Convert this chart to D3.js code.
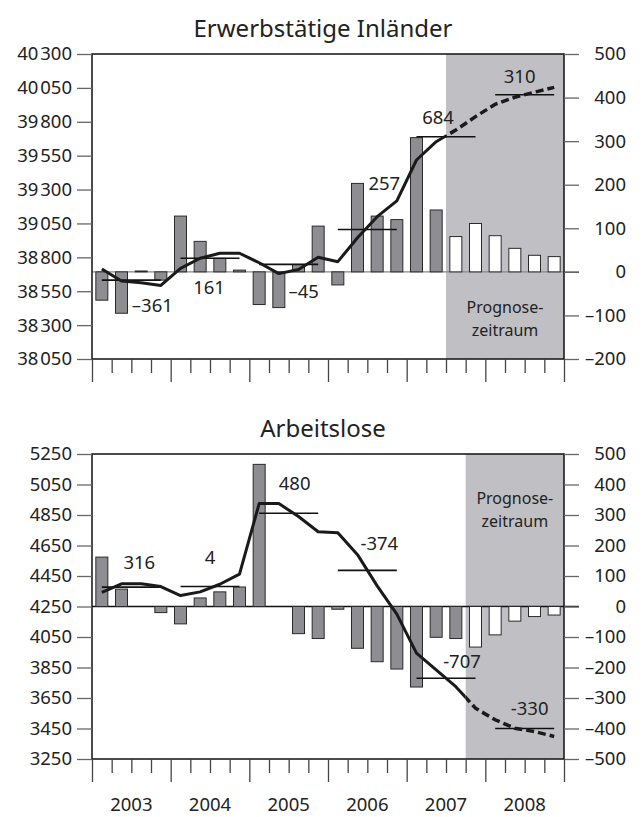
<!DOCTYPE html>
<html>
<head>
<meta charset="utf-8">
<script src="https://cdn.jsdelivr.net/npm/d3@7"></script>
<style>
  body { margin: 0; background: #fff; }
  svg text { font-family: "Noto Sans", sans-serif; fill: #222; }
</style>
</head>
<body>
<div id="chart"></div>
<script>
// ---- data (Tsd. Personen), quarters 2003 I .. 2008 IV ----
var years = ["2003", "2004", "2005", "2006", "2007", "2008"];
var quarterNames = ["I", "II", "III", "IV"];

// Erwerbstätige Inländer
var erwQuarterChange = [-65, -95, 2, -19, 128, 70, 31, 4, -75, -82, 17, 105,
                        -30, 203, 128, 120, 308, 142, 81, 111, 83, 54, 38, 35];
var erwLevel = [38714, 38625, 38613, 38593, 38719, 38793, 38830, 38830,
                38760, 38680, 38710, 38800, 38768, 38945, 39100, 39216,
                39518, 39653, 39739, 39838, 39929, 39981, 40018, 40054];
var erwAnnual = [38632, 38793, 38748, 39005, 39689, 39999];
var erwAnnualChange = [-361, 161, -45, 257, 684, 310];
var erwTicksLeft = [38050, 38300, 38550, 38800, 39050, 39300, 39550, 39800, 40050, 40300];
var erwTicksRight = [-200, -100, 0, 100, 200, 300, 400, 500];
var erwForecastFrom = 18;

// Arbeitslose
var alQuarterChange = [162, 57, 0, -20, -57, 28, 48, 64, 466, 0, -89, -105,
                       -9, -137, -181, -205, -264, -101, -105, -133, -93, -48, -33, -28];
var alLevel = [4342, 4399, 4399, 4381, 4322, 4346, 4396, 4462,
               4925, 4925, 4840, 4740, 4734, 4590, 4385, 4200,
               3944, 3834, 3724, 3583, 3507, 3452, 3430, 3398];
var alAnnual = [4377, 4381, 4861, 4487, 3780, 3450];
var alAnnualChange = [316, 4, 480, -374, -707, -330];
var alTicksLeft = [3250, 3450, 3650, 3850, 4050, 4250, 4450, 4650, 4850, 5050, 5250];
var alTicksRight = [-500, -400, -300, -200, -100, 0, 100, 200, 300, 400, 500];
var alForecastFrom = 19;

// ---- layout ----
var svgWidth = 643;
var svgHeight = 817;
var plotLeft = 92;
var plotRight = 564;

var svg = d3.select("#chart")
  .append("svg")
  .attr("width", svgWidth)
  .attr("height", svgHeight);

var nQuarters = years.length * quarterNames.length;

var x = d3.scaleLinear()
  .domain([0, nQuarters])
  .range([plotLeft, plotRight]);

var de = d3.formatLocale({
  decimal: ",",
  thousands: "\u200A",
  grouping: [3],
  currency: ["", " €"],
  minus: "\u2013"
});
var fmtBig = de.format(",d");
var fmtInt = de.format("d");

function leftFormat(v) {
  return v >= 10000 ? fmtBig(v) : fmtInt(v);
}

function drawPanel(p) {
  var top = p.top, bottom = p.top + 305;

  var yL = d3.scaleLinear().domain(d3.extent(p.ticksLeft)).range([bottom, top]);
  var yR = d3.scaleLinear().domain(d3.extent(p.ticksRight)).range([bottom, top]);

  var g = svg.append("g");
  var shadeX = x(p.forecastFrom);

  // forecast shading
  g.append("rect")
    .attr("x", shadeX)
    .attr("y", top)
    .attr("width", plotRight - shadeX)
    .attr("height", bottom - top)
    .attr("fill", "#c0c0c4");

  // zero line
  g.append("line")
    .attr("x1", plotLeft)
    .attr("x2", plotRight + 15)
    .attr("y1", yR(0))
    .attr("y2", yR(0))
    .attr("stroke", p.zeroColor)
    .attr("stroke-width", 1.3);

  // quarterly changes (right axis)
  var barW = 12;
  g.selectAll("rect.bar")
    .data(p.quarterChange)
    .enter()
    .append("rect")
    .attr("class", "bar")
    .attr("x", function(d, i) { return x(i + 0.5) - barW / 2; })
    .attr("y", function(d) { return Math.min(yR(d), yR(0)); })
    .attr("width", barW)
    .attr("height", function(d) { return Math.abs(yR(d) - yR(0)); })
    .attr("fill", function(d, i) { return i >= p.forecastFrom ? "#fff" : "#8e8e92"; })
    .attr("stroke", "#2a2a2a")
    .attr("stroke-width", 1);

  // annual averages
  g.selectAll("line.annual")
    .data(p.annual)
    .enter()
    .append("line")
    .attr("class", "annual")
    .attr("x1", function(d, i) { return x(i * 4 + 0.5); })
    .attr("x2", function(d, i) { return x(i * 4 + 3.5); })
    .attr("y1", function(d) { return yL(d); })
    .attr("y2", function(d) { return yL(d); })
    .attr("stroke", "#111")
    .attr("stroke-width", 1.6);

  // level line, solid before forecast, dashed after
  var line = d3.line()
    .x(function(d, i) { return x(i + 0.5); })
    .y(function(d) { return yL(d); });

  var defs = svg.append("defs");
  defs.append("clipPath").attr("id", p.id + "-past")
    .append("rect")
    .attr("x", 0).attr("y", top - 20)
    .attr("width", shadeX).attr("height", bottom - top + 40);
  defs.append("clipPath").attr("id", p.id + "-future")
    .append("rect")
    .attr("x", shadeX).attr("y", top - 20)
    .attr("width", svgWidth - shadeX).attr("height", bottom - top + 40);

  g.append("path")
    .datum(p.level)
    .attr("d", line)
    .attr("fill", "none")
    .attr("stroke", "#1a1a1a")
    .attr("stroke-width", 3)
    .attr("stroke-linejoin", "round")
    .attr("clip-path", "url(#" + p.id + "-past)");

  g.append("path")
    .datum(p.level)
    .attr("d", line)
    .attr("fill", "none")
    .attr("stroke", "#1a1a1a")
    .attr("stroke-width", 3.5)
    .attr("stroke-dasharray", "8,4")
    .attr("clip-path", "url(#" + p.id + "-future)");

  // frame
  g.append("rect")
    .attr("x", plotLeft)
    .attr("y", top)
    .attr("width", plotRight - plotLeft)
    .attr("height", bottom - top)
    .attr("fill", "none")
    .attr("stroke", "#111")
    .attr("stroke-width", 1.5);

  // left axis
  var axL = g.append("g")
    .attr("transform", "translate(" + plotLeft + ",0)")
    .call(d3.axisLeft(yL).tickValues(p.ticksLeft).tickSize(15).tickPadding(5).tickFormat(leftFormat));
  // right axis
  var axR = g.append("g")
    .attr("transform", "translate(" + plotRight + ",0)")
    .call(d3.axisRight(yR).tickValues(p.ticksRight).tickSize(15).tickPadding(47).tickFormat(fmtInt));
  axR.selectAll("text").attr("text-anchor", "end");

  [axL, axR].forEach(function(ax) {
    ax.select(".domain").remove();
    ax.selectAll("line").attr("stroke", "#666").attr("stroke-width", 1.3);
    ax.selectAll("text")
      .attr("font-size", 18.5)
      .attr("fill", "#222")
      .attr("font-family", "Noto Sans, sans-serif");
  });

  // quarter ticks below
  var axB = g.append("g")
    .attr("transform", "translate(0," + bottom + ")")
    .call(d3.axisBottom(x).tickValues(d3.range(0, nQuarters + 1)).tickSize(14).tickFormat(""));
  axB.select(".domain").remove();
  axB.selectAll("line")
    .attr("stroke", "#444")
    .attr("stroke-width", 1.3)
    .attr("y2", function(d) { return d % 4 === 0 ? 23 : 14; });

  // title
  g.append("text")
    .attr("x", 323)
    .attr("y", top - 17)
    .attr("text-anchor", "middle")
    .attr("font-size", 24)
    .text(p.title);

  // annual change labels
  g.selectAll("text.chg")
    .data(p.annualChange)
    .enter()
    .append("text")
    .attr("class", "chg")
    .attr("x", function(d, i) { return x(i * 4 + 2) + p.labelOffsets[i][0]; })
    .attr("y", function(d, i) { return yL(p.annual[i]) + p.labelOffsets[i][1]; })
    .attr("dy", "0.36em")
    .attr("text-anchor", "middle")
    .attr("font-size", 18.5)
    .text(p.labelFormat);

  // forecast note
  var note = g.append("text")
    .attr("x", (shadeX + plotRight) / 2)
    .attr("y", p.noteY)
    .attr("text-anchor", "middle")
    .attr("font-size", 16);
  note.append("tspan").attr("x", (shadeX + plotRight) / 2).text("Prognose-");
  note.append("tspan").attr("x", (shadeX + plotRight) / 2).attr("dy", 23).text("zeitraum");

  return g;
}

drawPanel({
  id: "erw",
  title: "Erwerbstätige Inländer",
  top: 54,
  quarterChange: erwQuarterChange,
  level: erwLevel,
  annual: erwAnnual,
  annualChange: erwAnnualChange,
  ticksLeft: erwTicksLeft,
  ticksRight: erwTicksRight,
  forecastFrom: erwForecastFrom,
  zeroColor: "#888",
  noteY: 313,
  labelOffsets: [[21, 25], [-1, 29], [15, 27], [17, -46], [-8, -19], [-5, -18]],
  labelFormat: function(d) { return d < 0 ? "\u2013" + Math.abs(d) : String(d); }
});

var al = drawPanel({
  id: "al",
  title: "Arbeitslose",
  top: 454,
  quarterChange: alQuarterChange,
  level: alLevel,
  annual: alAnnual,
  annualChange: alAnnualChange,
  ticksLeft: alTicksLeft,
  ticksRight: alTicksRight,
  forecastFrom: alForecastFrom,
  zeroColor: "#111",
  noteY: 504,
  labelOffsets: [[8, -25], [0, -29], [6, -30], [12, -27], [16, -17], [5, -20]],
  labelFormat: function(d) { return String(d); }
});

// year labels
al.selectAll("text.year")
  .data(years)
  .enter()
  .append("text")
  .attr("class", "year")
  .attr("x", function(d, i) { return x(i * 4 + 2); })
  .attr("y", 811)
  .attr("text-anchor", "middle")
  .attr("font-size", 18.5)
  .text(function(d) { return d; });
</script>
</body>
</html>
